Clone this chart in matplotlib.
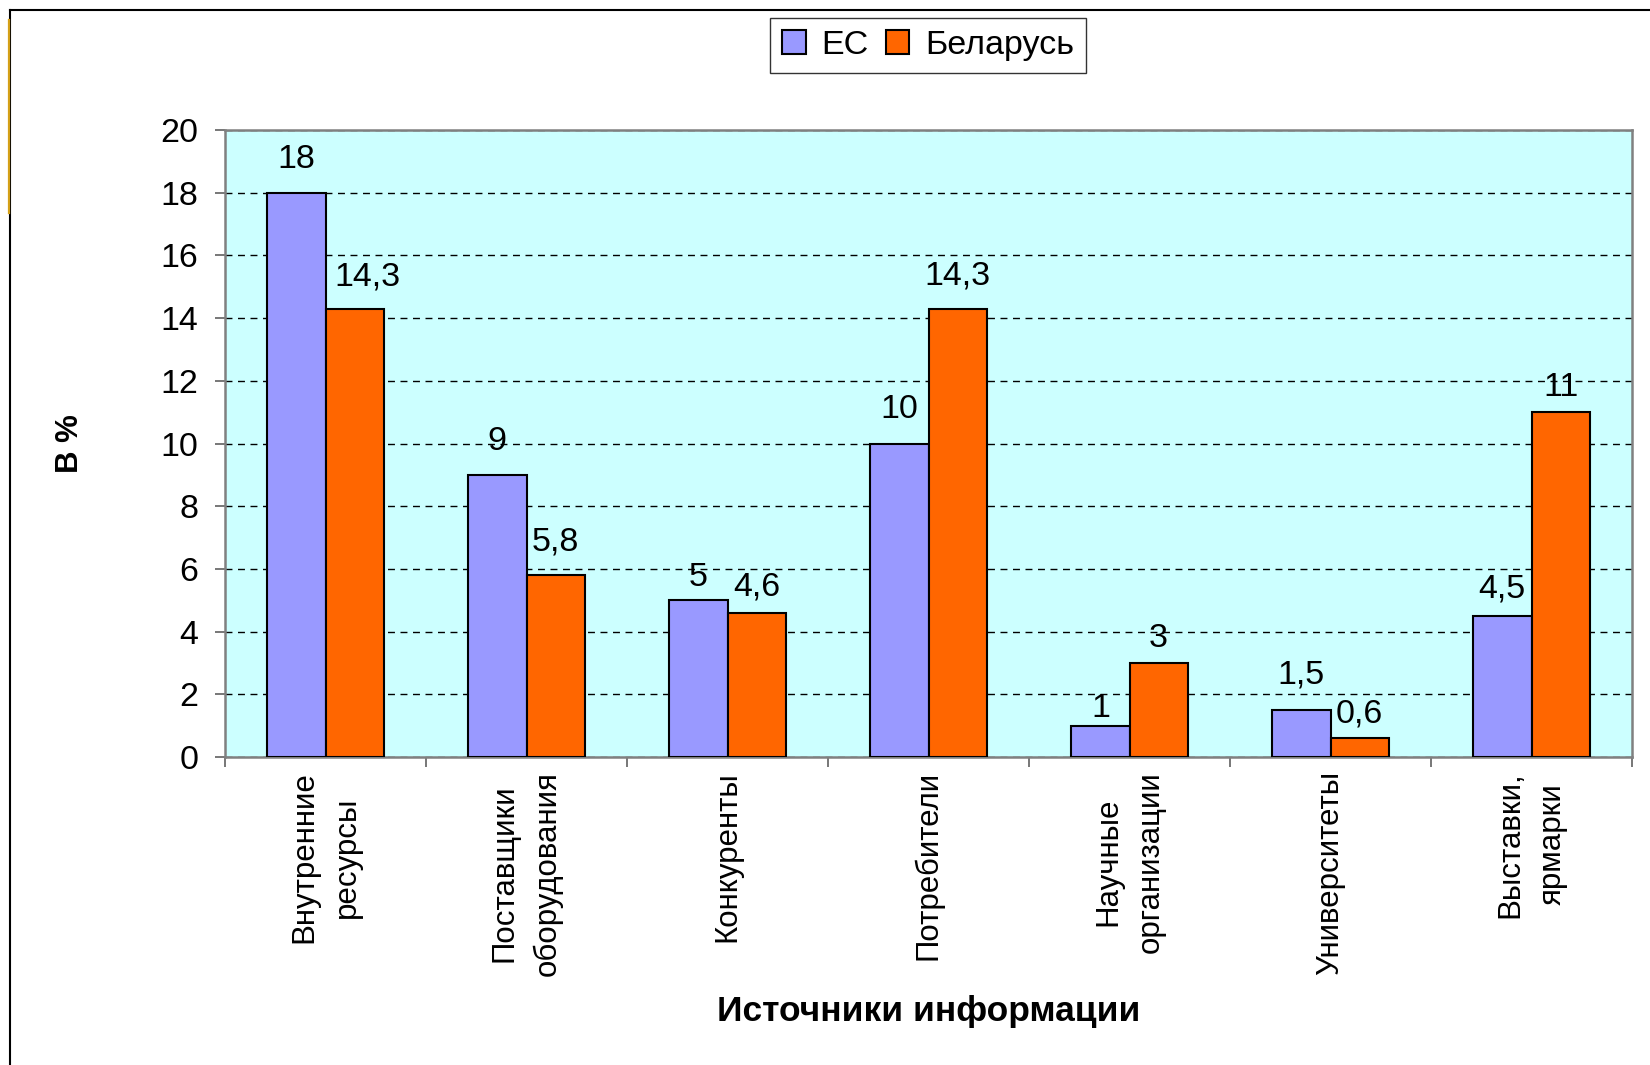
import numpy as np
import matplotlib
matplotlib.use('Agg')
import matplotlib.pyplot as plt
from matplotlib.lines import Line2D

plt.rcParams['font.family'] = ['Liberation Sans', 'DejaVu Sans']

# данные
categories = ['Внутренние\nресурсы', 'Поставщики\nоборудования', 'Конкуренты',
              'Потребители', 'Научные\nорганизации', 'Университеты', 'Выставки,\nярмарки']
eu_values = [18, 9, 5, 10, 1, 1.5, 4.5]
by_values = [14.3, 5.8, 4.6, 14.3, 3, 0.6, 11]
series_names = ['ЕС', 'Беларусь']
y_ticks = [0, 2, 4, 6, 8, 10, 12, 14, 16, 18, 20]

# отступ подписей над столбцами (px), как в оригинале
eu_gap = [25, 25, 14, 25, 9, 26, 18]
by_gap = [23, 25, 17, 24, 16, 16, 16]

eu_color = '#9999FF'
by_color = '#FF6600'
fs = 24.5      # горизонтальный текст (в оригинале растянут по ширине)
fs_rot = 22.5  # повёрнутые подписи

fig = plt.figure(figsize=(16.5, 10.65), dpi=100)
ax = fig.add_axes([225 / 1650, 1 - 757 / 1065, 1407 / 1650, 627 / 1065])
ax.set_facecolor('#CCFFFF')

x = np.arange(len(categories))
w = 0.29
b1 = ax.bar(x - w / 2, eu_values, w, color=eu_color, edgecolor='black', linewidth=1.5,
            label=series_names[0], zorder=3)
b2 = ax.bar(x + w / 2, by_values, w, color=by_color, edgecolor='black', linewidth=1.5,
            label=series_names[1], zorder=3)

def fmt(v):
    return f'{v:g}'.replace('.', ',')

for k, (bars, vals, gaps) in enumerate([(b1, eu_values, eu_gap), (b2, by_values, by_gap)]):
    for i, (rect, v, g) in enumerate(zip(bars, vals, gaps)):
        dx = 9 if (k == 1 and i == 0) else 0  # подпись сдвинута вправо, как в оригинале
        ax.annotate(fmt(v), (rect.get_x() + rect.get_width() / 2, v),
                    xytext=(dx, g * 0.72), textcoords='offset points',
                    ha='center', va='baseline', fontsize=fs, zorder=4)

ax.set_xlim(-0.5, len(categories) - 0.5)
ax.set_ylim(0, 20)
ax.set_yticks(y_ticks)
ax.yaxis.grid(True, color='black', linestyle=(0, (5, 4)), linewidth=1.0, zorder=1)
ax.tick_params(axis='y', labelsize=fs, length=7, width=1.2, color='#606060', pad=12)

# границы категорий - основные деления, подписи - на промежуточных
ax.set_xticks(np.arange(len(categories) + 1) - 0.5)
ax.set_xticklabels([])
ax.set_xticks(x, minor=True)
ax.set_xticklabels(categories, minor=True, rotation=90, fontsize=fs_rot,
                   va='top', ha='center', multialignment='center', linespacing=1.55)
ax.tick_params(axis='x', which='major', length=7, width=1.2, color='#606060')
ax.tick_params(axis='x', which='minor', length=0, pad=10)

for s in ax.spines.values():
    s.set_color('#808080')
    s.set_linewidth(1.8)

ax.set_xlabel('Источники информации', fontsize=25.5, fontweight='bold', va='center')
ax.xaxis.set_label_coords(0.5, (757 - 1012) / 627)
ax.set_ylabel('В %', fontsize=fs_rot, fontweight='bold', va='center')
ax.yaxis.set_label_coords((70 - 225) / 1407, 0.5)

leg = fig.legend(handles=[b1, b2], loc='center', bbox_to_anchor=(928 / 1650, 1 - 45.5 / 1065),
                 ncol=2, fontsize=fs, frameon=True, fancybox=False, shadow=False,
                 handlelength=0.7, handleheight=0.7, handletextpad=0.45,
                 columnspacing=0.5, borderpad=0.35, borderaxespad=0)
leg.get_frame().set_edgecolor('black')
leg.get_frame().set_linewidth(1.0)

# рамка слайда
fig.add_artist(Line2D([10 / 1650, 1], [1 - 10 / 1065] * 2, color='black', lw=1.5,
                      transform=fig.transFigure))
fig.add_artist(Line2D([10 / 1650] * 2, [0, 1 - 10 / 1065], color='black', lw=1.5,
                      transform=fig.transFigure))
fig.add_artist(Line2D([8.5 / 1650] * 2, [1 - 213 / 1065, 1 - 20 / 1065], color='#D4A017',
                      lw=1.6, transform=fig.transFigure))

fig.savefig('out.png', dpi=100)
